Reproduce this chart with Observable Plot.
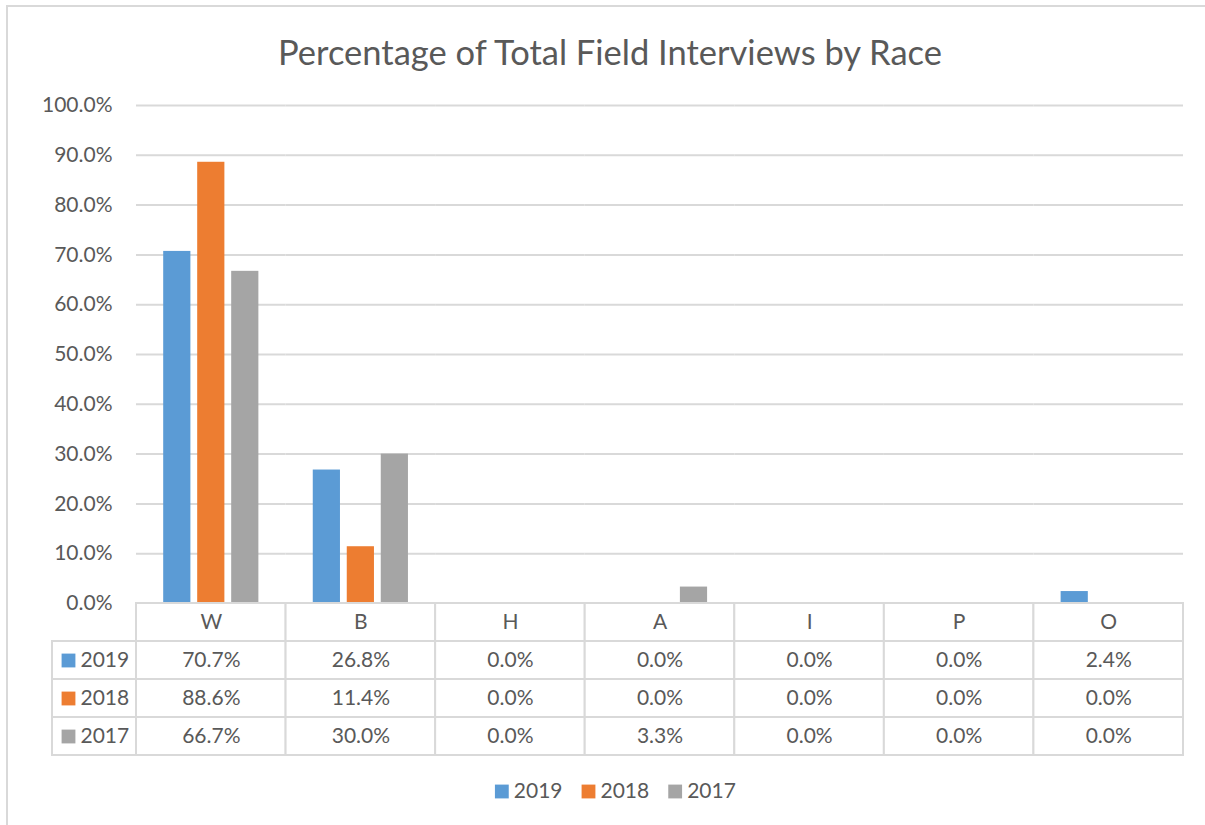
<!DOCTYPE html>
<html><head><meta charset="utf-8">
<script src="https://cdn.jsdelivr.net/npm/d3@7"></script>
<script src="https://cdn.jsdelivr.net/npm/@observablehq/plot@0.6"></script>
<style>
html,body{margin:0;padding:0;background:#fff;}
#root{position:relative;width:1205px;height:825px;overflow:hidden;background:#fff;font-family:Lato,"Open Sans",sans-serif;color:#595959;}
#frame{position:absolute;left:6px;top:5px;width:1230px;height:860px;border:2px solid #d9d9d9;box-sizing:border-box;}
#title{position:absolute;left:0;width:1220px;top:31px;text-align:center;font-size:34.5px;line-height:42px;color:#595959;}
.abs{position:absolute;}
.abs svg{overflow:visible;}
</style>
</head><body>
<div id="root">
  <div id="frame"></div>
  <div id="title">Percentage of Total Field Interviews by Race</div>
  <div id="chart" class="abs" style="left:0;top:80px;"></div>
  <div id="table" class="abs" style="left:0;top:602px;"></div>
  <div id="labels" class="abs" style="left:50px;top:602px;"></div>
  <div id="legend" class="abs" style="left:494px;top:771px;"></div>
</div>
<script>
const races = ["W", "B", "H", "A", "I", "P", "O"];
const years = ["2019", "2018", "2017"];
const colors = ["#5b9bd5", "#ed7d31", "#a5a5a5"];
const v2019 = [0.707, 0.268, 0.0, 0.0, 0.0, 0.0, 0.024];
const v2018 = [0.886, 0.114, 0.0, 0.0, 0.0, 0.0, 0.0];
const v2017 = [0.667, 0.300, 0.0, 0.033, 0.0, 0.0, 0.0];
const yTicks = [0, 0.1, 0.2, 0.3, 0.4, 0.5, 0.6, 0.7, 0.8, 0.9, 1.0];

const series = [v2019, v2018, v2017];
const data = years.flatMap((yr, i) => races.map((r, j) => ({race: r, year: yr, value: series[i][j]})));
const fmt = d3.format(".1%");
const txt = "#595959", grid = "#d9d9d9";
const font = "Lato, 'Open Sans', sans-serif";
const fs = 21;

const chart = Plot.plot({
  width: 1205, height: 540,
  marginLeft: 136, marginRight: 22, marginTop: 25, marginBottom: 17,
  style: {background: "transparent", fontFamily: font, fontSize: fs + "px", color: txt},
  fx: {domain: races, padding: 0, round: false, axis: null, label: null},
  x: {type: "band", domain: years, paddingInner: 0.2, paddingOuter: 0.8, round: false, axis: null},
  y: {domain: [0, 1], ticks: yTicks, tickFormat: fmt, tickSize: 0, tickPadding: 24, label: null},
  color: {domain: years, range: colors},
  marks: [
    Plot.ruleY(yTicks.filter(d => d > 0), {stroke: grid, strokeWidth: 2}),
    Plot.axisY({ticks: yTicks, tickFormat: fmt, tickSize: 0, tickPadding: 24, label: null, fill: txt, fontSize: fs}),
    Plot.barY(data, {fx: "race", x: "year", y: "value", fill: "year"})
  ]
});
document.getElementById("chart").appendChild(chart);

const rowDomain = ["", ...years];
const cells = [
  ...races.map(r => ({race: r, row: "", label: r})),
  ...data.map(d => ({race: d.race, row: d.year, label: fmt(d.value)}))
];
const table = Plot.plot({
  width: 1205, height: 154,
  marginLeft: 136, marginRight: 22, marginTop: 1, marginBottom: 1,
  style: {background: "transparent", fontFamily: font, fontSize: fs + "px", color: txt},
  x: {type: "band", domain: races, padding: 0, round: false, axis: null},
  y: {type: "band", domain: rowDomain, padding: 0, round: false, axis: null},
  marks: [
    Plot.cell(cells, {x: "race", y: "row", fill: "white", stroke: grid, strokeWidth: 2}),
    Plot.text(cells, {x: "race", y: "row", text: "label", fill: txt, fontSize: fs})
  ]
});
document.getElementById("table").appendChild(table);

const labels = Plot.plot({
  width: 88, height: 154,
  marginLeft: 2, marginRight: 2, marginTop: 1, marginBottom: 1,
  style: {background: "transparent", fontFamily: font, fontSize: fs + "px", color: txt},
  y: {type: "band", domain: rowDomain, padding: 0, round: false, axis: null},
  color: {domain: years, range: colors},
  marks: [
    Plot.cell(years, {y: d => d, fill: "white", stroke: grid, strokeWidth: 2}),
    Plot.dot(years, {y: d => d, frameAnchor: "left", dx: 16, symbol: "square", r: 7.8, fill: d => d, stroke: null}),
    Plot.text(years, {y: d => d, frameAnchor: "left", dx: 28, text: d => d, textAnchor: "start", fill: txt, fontSize: fs})
  ]
});
document.getElementById("labels").appendChild(labels);

const legend = Plot.plot({
  width: 260, height: 40,
  marginLeft: 0, marginRight: 0, marginTop: 0, marginBottom: 0,
  style: {background: "transparent", fontFamily: font, fontSize: fs + "px", color: txt},
  x: {type: "band", domain: years, padding: 0, round: false, axis: null},
  color: {domain: years, range: colors},
  marks: [
    Plot.dot(years, {x: d => d, frameAnchor: "middle", dx: -36, symbol: "square", r: 7.8, fill: d => d, stroke: null}),
    Plot.text(years, {x: d => d, frameAnchor: "middle", dx: -24, text: d => d, textAnchor: "start", fill: txt, fontSize: fs})
  ]
});
document.getElementById("legend").appendChild(legend);
</script>
</body></html>
